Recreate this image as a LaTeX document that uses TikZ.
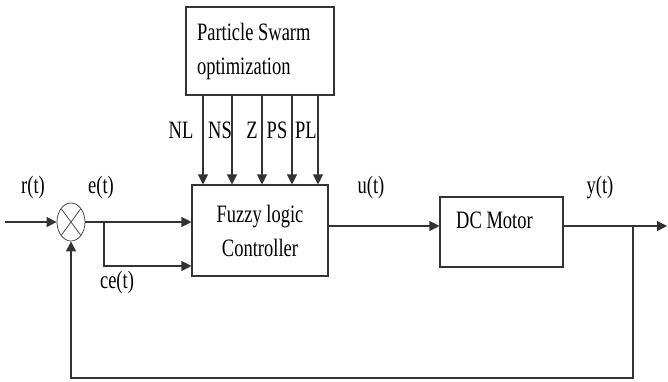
\documentclass[tikz,border=0pt]{standalone}
\usepackage{fontspec}
\setmainfont{Liberation Serif}[FakeStretch=0.74]
\usetikzlibrary{arrows.meta,positioning,shapes.geometric}
\begin{document}
\begin{tikzpicture}[
  x=1pt, y=-1pt,
  font=\fontsize{25}{34}\selectfont,
  box/.style={draw=black!80, line width=1.1pt, inner sep=0pt},
  arr/.style={-{Triangle[length=10pt,width=10pt]}, line width=1.1pt, draw=black!80},
  sig/.style={anchor=base, inner sep=0pt}
]
\useasboundingbox (0,0) rectangle (668,381);
\node[box, minimum width=148pt, minimum height=88pt, text width=126pt, inner xsep=11pt, align=left] (pso) at (260,51) {\spaceskip=0pt\relax Particle Swarm\\optimization};
\node[box, minimum width=136pt, minimum height=91pt, align=center] (flc) at (260,230.5) {Fuzzy logic\\Controller};
\node[box, minimum width=123pt, minimum height=70pt] (dcm) at (501.5,232) {};
\node[sig, anchor=base west] (dclab) at (456,228) {DC Motor};
\node[draw=black!70, line width=0.8pt, ellipse, minimum width=28pt, minimum height=38pt, inner sep=0pt,
  path picture={\draw[line width=0.8pt, black!70] (path picture bounding box.north west) -- (path picture bounding box.south east)
    (path picture bounding box.north east) -- (path picture bounding box.south west);}] (sum) at (71,222) {};
\coordinate (in) at (5,222);
\coordinate (br) at (104,222);
\coordinate (fb) at (633,226);
\coordinate (out) at (667,226);
\coordinate (fbc) at (633,378);
\draw[arr] (in) -- (sum.west);
\draw[arr] (sum.east) -- (sum.east -| flc.west);
\draw[arr] (br) |- ([yshift=-35.5pt]flc.west);
\draw[arr] ([yshift=4.5pt]flc.east) -- ([yshift=4.5pt]flc.east -| dcm.west);
\draw[arr] ([yshift=6pt]dcm.east) -- (out);
\draw[arr] (fb) -- (fbc) -| (sum.south);
\foreach \ax/\lx/\lab in {203/181/NL, 232/220/NS, 262/252/Z, 292/277/PS, 318/306/PL}{
  \draw[arr] (pso.south -| \ax,0) -- (flc.north -| \ax,0);
  \node[sig] (l\lab) at (\lx,138) {\lab};
}
\node[sig] (rt) at (33,193) {r(t)};
\node[sig] (et) at (101,193) {e(t)};
\node[sig] (cet) at (117,288) {ce(t)};
\node[sig] (ut) at (371,193) {u(t)};
\node[sig] (yt) at (600,193) {y(t)};
\end{tikzpicture}
\end{document}
